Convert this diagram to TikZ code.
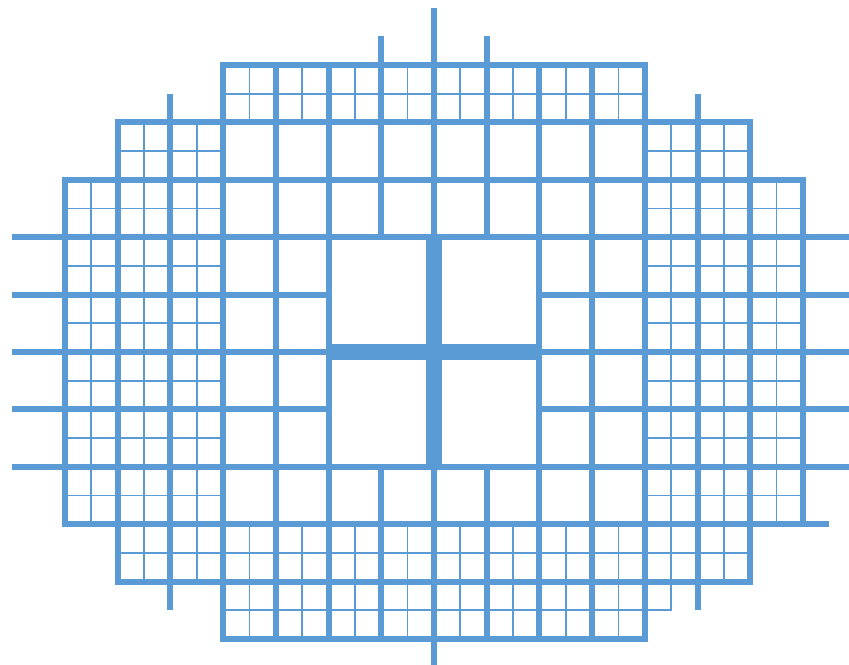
\documentclass[tikz,border=0pt]{standalone}
\usepackage{tikz}
\definecolor{gridBlue}{RGB}{91,155,213}

\begin{document}
\begin{tikzpicture}[x=1.0542cm, y=-1.148cm,
  major/.style={draw=gridBlue, line width=3.4pt},
  minor/.style={draw=gridBlue, line width=1pt},
  crossbar/.style={draw=gridBlue, line width=9pt}]
  \useasboundingbox (-1.2332,-1.1324) rectangle (14.874,10.453);
  \foreach \r/\a/\b in {0/3/10, 1/1/2, 1/11/12, 2/0/2, 2/11/13, 3/0/2, 3/11/13,
      4/0/2, 4/11/13, 5/0/2, 5/11/13, 6/0/2, 6/11/13, 7/0/2, 7/11/13, 8/1/12, 9/3/10}
    \foreach \c in {\a,...,\b}
      \draw[minor] (\c+0.5,\r) -- (\c+0.5,\r+1) (\c,\r+0.5) -- (\c+1,\r+0.5);
  \draw[minor] (11,9.5) -- (11.5,9.5) -- (11.5,9);
  \foreach \r/\a/\b in {0/3/10, 1/1/12, 2/0/13, 3/0/4, 3/9/13, 4/0/4, 4/9/13,
      5/0/4, 5/9/13, 6/0/4, 6/9/13, 7/0/13, 8/1/12, 9/3/10}
    \foreach \c in {\a,...,\b}
      \draw[major] (\c,\r) rectangle ++(1,1);
  \draw[major] (5,3) rectangle (9,7);
  \draw[crossbar] (7,3) -- (7,7) (5,5) -- (9,5);
  \foreach \r in {3,...,7}
    \draw[major] (-1,\r) -- (0,\r) (14,\r) -- (14.9,\r);
  \draw[major] (14,8) -- (14.5,8);
  \draw[major] (7,-1) -- (7,0) (6,-0.5) -- (6,0) (8,-0.5) -- (8,0)
    (2,0.5) -- (2,1) (12,0.5) -- (12,1);
  \draw[major] (7,10) -- (7,10.6) (2,9) -- (2,9.5) (12,9) -- (12,9.5);
\end{tikzpicture}
\end{document}
